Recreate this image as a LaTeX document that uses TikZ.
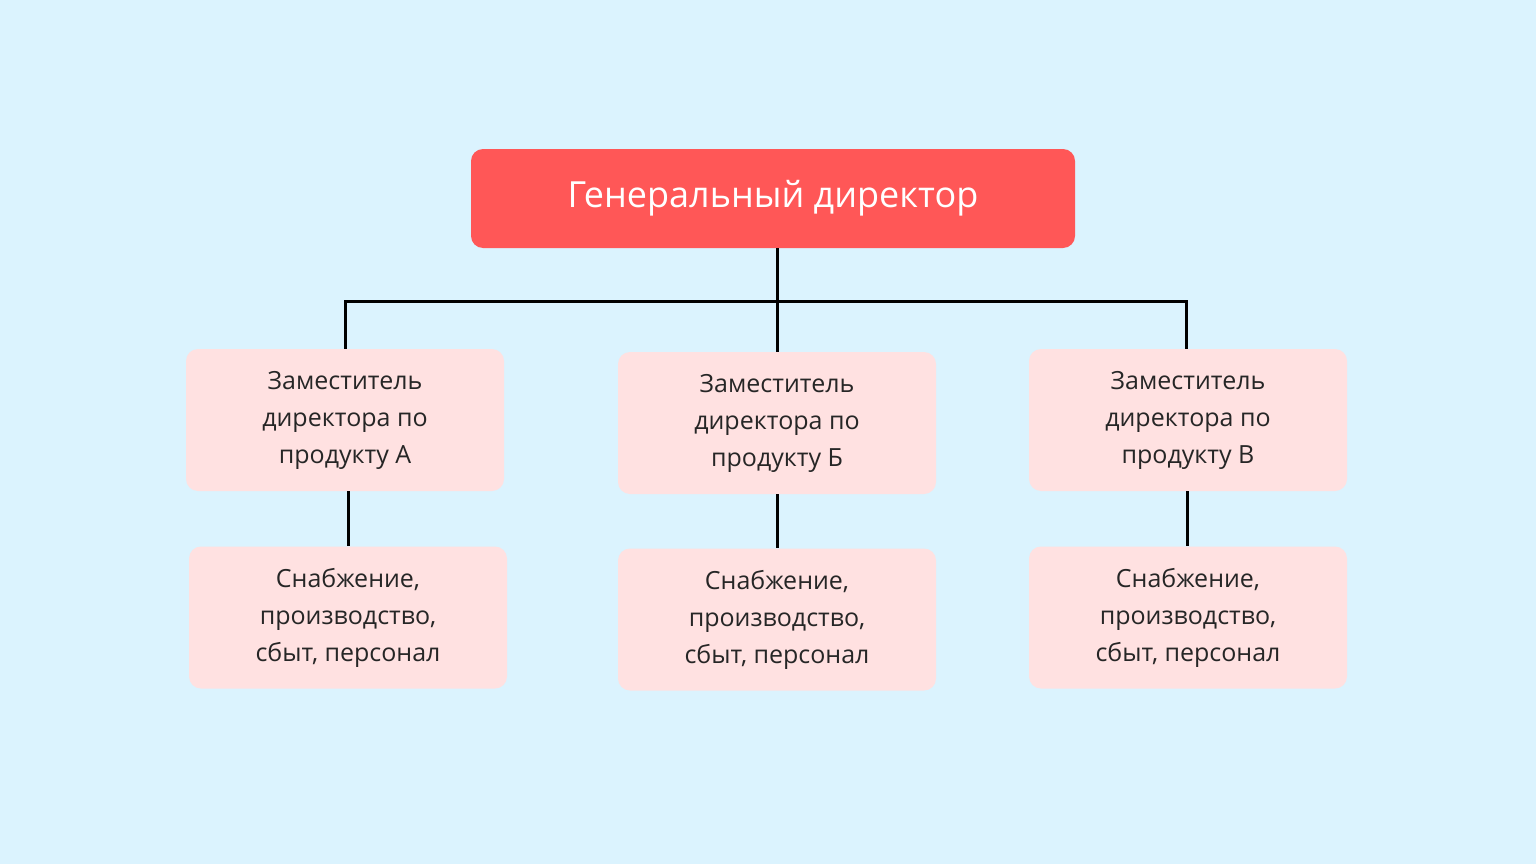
\documentclass[tikz,border=0pt]{standalone}
\usepackage{fontspec}
\setmainfont{Open Sans}
\definecolor{bg}{HTML}{DBF3FE}
\definecolor{topc}{HTML}{FF5757}
\definecolor{boxc}{HTML}{FFE1E1}
\begin{document}
\begin{tikzpicture}[x=1pt,y=-1pt,
  topbox/.style={fill=topc,rounded corners=12pt,minimum width=604pt,minimum height=99pt,text=white,font=\fontsize{36}{44}\selectfont},
  subbox/.style={fill=boxc,rounded corners=12pt,minimum width=318pt,minimum height=142pt,align=center,font=\fontsize{25}{37}\selectfont,text=black!85},
  link/.style={line width=3pt,black}]
\fill[bg] (0,0) rectangle (1536,864);
\useasboundingbox (0,0) rectangle (1536,864);
\node[topbox] (top) at (773,198.5) {Генеральный директор};
\node[subbox] (a) at (345,420) {Заместитель\\директора по\\продукту А};
\node[subbox] (b) at (777,423) {Заместитель\\директора по\\продукту Б};
\node[subbox] (c) at (1188,420) {Заместитель\\директора по\\продукту В};
\node[subbox] (a2) at (348,617.5) {Снабжение,\\производство,\\сбыт, персонал};
\node[subbox] (b2) at (777,619.5) {Снабжение,\\производство,\\сбыт, персонал};
\node[subbox] (c2) at (1188,617.5) {Снабжение,\\производство,\\сбыт, персонал};
\coordinate (h) at (777,301);
\draw[link] (top.south -| h) -- (b.north);
\draw[link] (a.north) |- (h) -| ([xshift=-2pt]c.north);
\draw[link] (a.south -| a2) -- (a2.north);
\draw[link] (b.south) -- (b2.north);
\draw[link] ([xshift=-1pt]c.south) -- ([xshift=-1pt]c2.north);
\end{tikzpicture}
\end{document}
